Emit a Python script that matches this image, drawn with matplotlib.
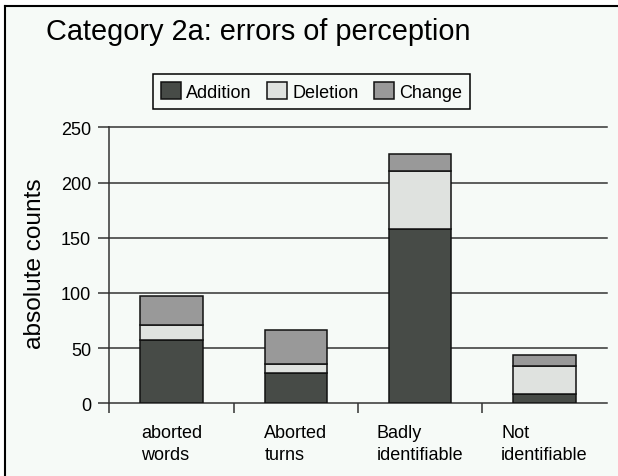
import matplotlib
matplotlib.use("Agg")
import matplotlib.pyplot as plt
from matplotlib.patches import Rectangle
from matplotlib.lines import Line2D
import numpy as np

# Data
categories = ["aborted\nwords", "Aborted\nturns", "Badly\nidentifiable", "Not\nidentifiable"]
addition = [57, 27, 158, 8]
deletion = [14, 9, 52, 26]
change = [26, 30, 16, 10]
series_names = ["Addition", "Deletion", "Change"]
y_ticks = [0, 50, 100, 150, 200, 250]

colors = ["#474b47", "#dfe2df", "#999999"]
bg = "#f6faf7"
ink = "#333333"

plt.rcParams["font.family"] = ["Liberation Sans", "DejaVu Sans"]

W, H = 618, 477
fig = plt.figure(figsize=(W / 100, H / 100), dpi=100, facecolor="white")

# page background with a frame on the left and top
fig.patches.append(Rectangle((5 / W, 0), 1 - 5 / W, 1 - 7 / H, transform=fig.transFigure,
                             facecolor=bg, edgecolor="none", zorder=-10))
fig.lines.append(Line2D([5 / W, 1], [1 - 7 / H, 1 - 7 / H], transform=fig.transFigure,
                        color="black", lw=1.5))
fig.lines.append(Line2D([5 / W, 5 / W], [0, 1 - 7 / H], transform=fig.transFigure,
                        color="black", lw=1.5))

left, right, top, bottom = 109.3, 606.7, 128.3, 404.3
ax = fig.add_axes([left / W, 1 - bottom / H, (right - left) / W, (bottom - top) / H])
ax.set_facecolor("none")

x = np.arange(len(categories)) + 0.5
series = [addition, deletion, change]
base = np.zeros(len(categories))
handles = []
for name, vals, col in zip(series_names, series, colors):
    h = ax.bar(x, vals, width=0.5, bottom=base, color=col, edgecolor="#111111",
               linewidth=1.1, label=name, zorder=3)
    handles.append(h)
    base = base + np.array(vals)

ax.set_xlim(0, len(categories))
ax.set_ylim(0, 250)

# horizontal gridlines (the one at zero doubles as the baseline)
for yv in y_ticks:
    ax.axhline(yv, color=ink, lw=1.1, zorder=1, clip_on=False)

for s in ["top", "right", "bottom"]:
    ax.spines[s].set_visible(False)
ax.spines["left"].set_color(ink)
ax.spines["left"].set_linewidth(1.1)

ax.set_yticks(y_ticks)
ax.set_yticklabels([str(v) for v in y_ticks])
ax.tick_params(axis="y", direction="out", length=8, width=1.1, color=ink,
               labelsize=13, pad=5)

# boundaries between categories carry tick marks; names sit at centers
ax.set_xticks(np.arange(len(categories)))
ax.set_xticklabels([""] * len(categories))
ax.tick_params(axis="x", which="major", direction="out", length=7.2, width=1.1, color=ink)
ax.set_xticks(x, minor=True)
ax.set_xticklabels(categories, minor=True, fontsize=13, multialignment="left",
                   linespacing=1.35)
ax.tick_params(axis="x", which="minor", length=0, pad=15)

fig.text(258 / W, 1 - 32 / H, "Category 2a: errors of perception", fontsize=20.8,
         ha="center", va="center")
fig.text(35 / W, 1 - 264 / H, "absolute counts", fontsize=17.6, rotation=90,
         ha="center", va="center")

leg = fig.legend(handles=handles, labels=series_names, loc="center",
                 bbox_to_anchor=(311.7 / W, 1 - 92.5 / H), ncol=3, fontsize=13,
                 frameon=True, fancybox=False, handlelength=1.1, handleheight=1.1,
                 handletextpad=0.3, columnspacing=0.85, borderpad=0.45)
leg.get_frame().set_edgecolor("black")
leg.get_frame().set_linewidth(1.1)
leg.get_frame().set_facecolor(bg)
leg.get_frame().set_alpha(1)

fig.savefig("out.png", dpi=100, facecolor="white")
